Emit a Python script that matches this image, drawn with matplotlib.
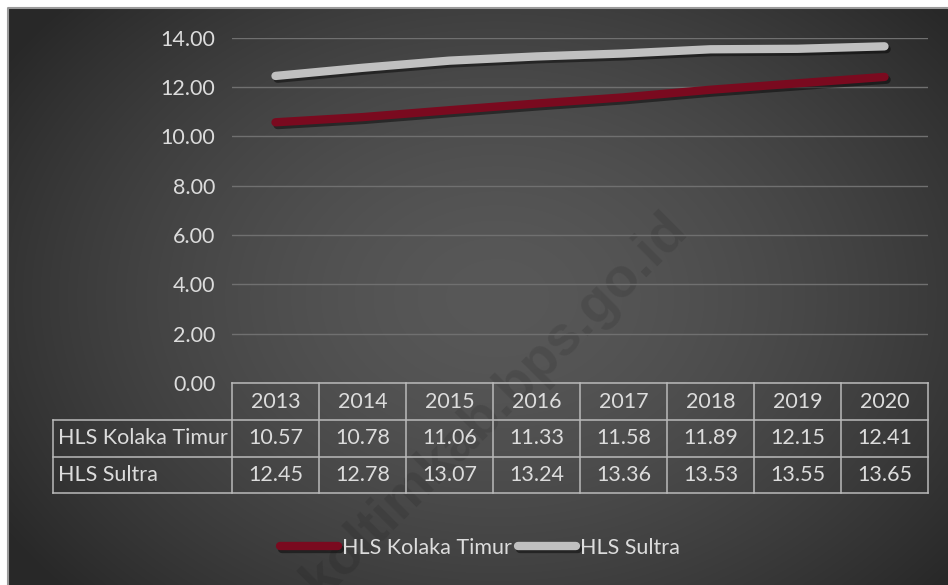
import numpy as np
import matplotlib
matplotlib.use("Agg")
import matplotlib.pyplot as plt
import matplotlib.patheffects as pe
from matplotlib.transforms import blended_transform_factory

years = ["2013", "2014", "2015", "2016", "2017", "2018", "2019", "2020"]
kolaka = [10.57, 10.78, 11.06, 11.33, 11.58, 11.89, 12.15, 12.41]
sultra = [12.45, 12.78, 13.07, 13.24, 13.36, 13.53, 13.55, 13.65]
series_names = ["HLS Kolaka Timur", "HLS Sultra"]
yticks = [0, 2, 4, 6, 8, 10, 12, 14]

W, H = 948, 585
fig = plt.figure(figsize=(W / 100, H / 100), dpi=100)
fig.patch.set_facecolor("white")

FONT = ["Lato", "DejaVu Sans"]
FS = 15.5
TXT = "#dcdcdc"

# background gradient panel
bg = fig.add_axes([8 / W, 0, 940 / W, 577 / H])
bg.set_axis_off()
ny, nx = 300, 500
yy, xx = np.mgrid[0:ny, 0:nx]
cx, cy = 0.52 * nx, 0.50 * ny
r = np.sqrt(((xx - cx) / (0.62 * nx)) ** 2 + ((yy - cy) / (0.75 * ny)) ** 2)
r = np.clip(r, 0, 1)
v = 0.345 - (0.345 - 0.160) * r ** 1.6
img = np.dstack([v, v, v])
bg.imshow(img, aspect="auto", extent=[0, 1, 0, 1], interpolation="bilinear")
bg.set_xlim(0, 1)
bg.set_ylim(0, 1)
bg.plot([0, 0, 1], [0, 1, 1], color="#9a9a9a", lw=1.5, transform=bg.transAxes, clip_on=False)

# main axes
top_px, zero_px = 37.7, 383
left_px, right_px = 232, 928
ax = fig.add_axes([left_px / W, 1 - zero_px / H, (right_px - left_px) / W, (zero_px - top_px) / H])
ax.set_facecolor("none")
x = np.arange(len(years))
ax.set_xlim(-0.5, len(years) - 0.5)
ax.set_ylim(0, 14)
ax.set_yticks(yticks)
ax.set_yticklabels([f"{t:.2f}" for t in yticks], fontsize=FS, color=TXT, family=FONT)
ax.tick_params(axis="y", length=0, pad=12)
ax.set_xticks([])
for s in ax.spines.values():
    s.set_visible(False)
ax.grid(axis="y", color="#707070", lw=1.0)
ax.set_axisbelow(True)

shadow = [pe.SimpleLineShadow(offset=(1.5, -2), shadow_color="black", alpha=0.45), pe.Normal()]
l1, = ax.plot(x, kolaka, color="#7a0a1f", lw=6, solid_capstyle="round", path_effects=shadow, label=series_names[0])
l2, = ax.plot(x, sultra, color="#c0c0c0", lw=6, solid_capstyle="round", path_effects=shadow, label=series_names[1])

# data table
ax_h = zero_px - top_px
def yax(px):
    return (zero_px - px) / ax_h
tr = blended_transform_factory(ax.transData, ax.transAxes)
rows_px = [383, 420, 457, 493]
bc = "#bababa"
lw_t = 1.1
hdr_left = ax.transAxes.inverted().transform((53, 0))[0]
ax.plot([-0.5, len(years) - 0.5], [yax(rows_px[0])] * 2, color=bc, lw=lw_t, transform=tr, clip_on=False)
for rp in rows_px[1:]:
    ax.plot([hdr_left, 1], [yax(rp)] * 2, color=bc, lw=lw_t, transform=ax.transAxes, clip_on=False)
for i in range(len(years) + 1):
    ax.plot([i - 0.5, i - 0.5], [yax(rows_px[0]), yax(rows_px[3])], color=bc, lw=lw_t, transform=tr, clip_on=False)
ax.plot([hdr_left, hdr_left], [yax(rows_px[1]), yax(rows_px[3])], color=bc, lw=lw_t, transform=ax.transAxes, clip_on=False)

def mid(a, b):
    return yax((a + b) / 2)
for i, yr in enumerate(years):
    ax.text(i, mid(rows_px[0], rows_px[1]), yr, ha="center", va="center", fontsize=FS, color=TXT, family=FONT, transform=tr)
for j, vals in enumerate([kolaka, sultra]):
    yc = mid(rows_px[j + 1], rows_px[j + 2])
    ax.text(hdr_left + 5 / (right_px - left_px), yc, series_names[j], ha="left", va="center", fontsize=FS,
            color=TXT, family=FONT, transform=ax.transAxes)
    for i, val in enumerate(vals):
        ax.text(i, yc, f"{val:.2f}", ha="center", va="center", fontsize=FS, color=TXT, family=FONT, transform=tr)

# legend
leg = fig.legend(handles=[l1, l2], loc="center", bbox_to_anchor=(480 / W, 1 - 548 / H), ncol=2, frameon=False,
                 prop={"family": FONT, "size": FS}, handlelength=2.7, handletextpad=0.2, columnspacing=0.25)
for t in leg.get_texts():
    t.set_color(TXT)

# watermark (clipped by the chart panel, as in the original)
wm = bg.text(495 / W, 1 - 405 / H, "koltimkab.bps.go.id", rotation=45, ha="center", va="center", fontsize=40,
             fontweight="bold", color="black", alpha=0.10, family=["Liberation Sans", "DejaVu Sans"],
             transform=fig.transFigure, clip_on=True)
wm.set_clip_path(bg.patch)

fig.savefig("out.png", dpi=100, facecolor="white")
